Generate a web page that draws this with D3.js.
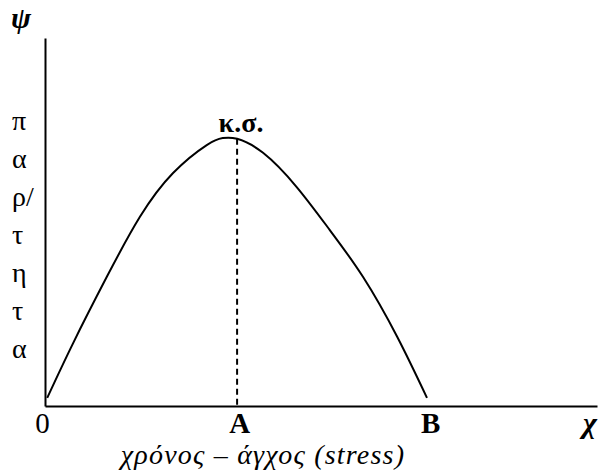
<!DOCTYPE html>
<html>
<head>
<meta charset="utf-8">
<script src="https://cdn.jsdelivr.net/npm/d3@7"></script>
<style>
  body { margin: 0; background: #fff; }
  svg text { font-family: "Liberation Serif", "DejaVu Serif", serif; fill: #000; }
</style>
</head>
<body>
<div id="chart"></div>
<script>
// curve (x: time-stress, y: performance), units 0-100
var curveX = [0.4, 5.1, 11.2, 17.2, 23.2, 29.3, 32.2, 34.8, 39.5, 45.6, 51.6, 57.6, 63.8, 69.2];
var curveY = [2.2, 17.1, 35.1, 51.4, 63.3, 70.9, 72.8, 72.6, 68.8, 59.5, 47.8, 35.1, 18.8, 2.2];

var tickValues = [0, 34.8, 69.4];
var tickLabels = ["0", "A", "B"];
var peakX = 34.8;
var peakY = 72.6;

var yLetters = ["π", "α", "ρ/", "τ", "η", "τ", "α"];

var svgWidth = 600;
var svgHeight = 475;

var svg = d3.select("#chart")
  .append("svg")
  .attr("width", svgWidth)
  .attr("height", svgHeight);

var xScale = d3.scaleLinear().domain([0, 100]).range([45, 597]);
var yScale = d3.scaleLinear().domain([0, 100]).range([406, 38]);

// x axis
var xAxis = svg.append("g")
  .attr("transform", `translate(0, ${yScale(0)})`)
  .call(d3.axisBottom(xScale)
    .tickValues(tickValues)
    .tickFormat((d, i) => tickLabels[i])
    .tickSize(0)
    .tickSizeOuter(0));

xAxis.select(".domain").attr("stroke", "#000").attr("stroke-width", 2);
xAxis.selectAll(".tick text")
  .attr("y", 27)
  .attr("dy", 0)
  .attr("font-size", 29)
  .attr("font-weight", (d, i) => i === 0 ? "normal" : "bold")
  .attr("dx", (d, i) => i === 0 ? -3 : 2);

// y axis
var yAxis = svg.append("g")
  .attr("transform", `translate(${xScale(0)}, 0)`)
  .call(d3.axisLeft(yScale).tickValues([]).tickSize(0).tickSizeOuter(0));

yAxis.select(".domain").attr("stroke", "#000").attr("stroke-width", 2);

// dashed line at the peak
svg.append("line")
  .attr("x1", xScale(peakX))
  .attr("x2", xScale(peakX))
  .attr("y1", yScale(peakY))
  .attr("y2", yScale(0))
  .attr("stroke", "#000")
  .attr("stroke-width", 2)
  .attr("stroke-dasharray", "6,4");

// the curve
var line = d3.line()
  .x(d => xScale(d[0]))
  .y(d => yScale(d[1]))
  .curve(d3.curveNatural);

svg.append("path")
  .datum(d3.zip(curveX, curveY))
  .attr("d", line)
  .attr("fill", "none")
  .attr("stroke", "#000")
  .attr("stroke-width", 2);

// labels
svg.append("text")
  .attr("x", 241)
  .attr("y", 132)
  .attr("text-anchor", "middle")
  .attr("font-size", 28)
  .attr("font-weight", "bold")
  .text("κ.σ.");

svg.append("text")
  .attr("x", 11)
  .attr("y", 28)
  .attr("font-size", 30)
  .attr("font-weight", "bold")
  .attr("font-style", "italic")
  .text("ψ");

svg.append("text")
  .attr("x", 590)
  .attr("y", 433)
  .attr("text-anchor", "middle")
  .attr("font-size", 30)
  .attr("font-weight", "bold")
  .attr("font-style", "italic")
  .text("χ");

svg.selectAll(".yletter")
  .data(yLetters)
  .enter()
  .append("text")
  .attr("class", "yletter")
  .attr("x", 12)
  .attr("y", (d, i) => 130 + i * 38)
  .attr("font-size", 28)
  .text(d => d);

svg.append("text")
  .attr("x", 263)
  .attr("y", 464)
  .attr("text-anchor", "middle")
  .attr("font-size", 28)
  .attr("letter-spacing", 1.2)
  .attr("font-style", "italic")
  .text("χρόνος – άγχος (stress)");
</script>
</body>
</html>
